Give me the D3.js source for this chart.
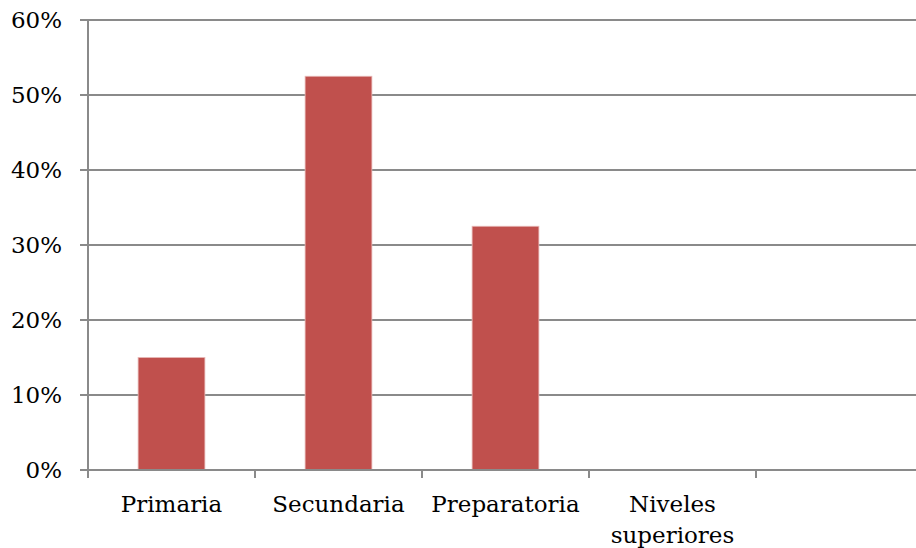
<!DOCTYPE html>
<html>
<head>
<meta charset="utf-8">
<script src="https://cdn.jsdelivr.net/npm/d3@7"></script>
<style>
html,body{margin:0;padding:0;background:#fff;}
svg{display:block;font-family:"DejaVu Serif",serif;}
</style>
</head>
<body>
<svg id="chart" width="916" height="548"></svg>
<script>
const categories = ["Primaria", "Secundaria", "Preparatoria", "Niveles superiores", ""];
const values = [0.15, 0.525, 0.325, 0, null];
const yTicks = [0, 0.1, 0.2, 0.3, 0.4, 0.5, 0.6];
const labelLines = [["Primaria"], ["Secundaria"], ["Preparatoria"], ["Niveles", "superiores"], []];

(function () {
const svg = d3.select("#chart");
const mLeft = 88, mRight = 923, mTop = 20, mBottom = 470;
const gridColor = "#8a8a8a";

const x = d3.scaleBand().domain(d3.range(categories.length)).range([mLeft, mRight])
  .paddingInner(0.6).paddingOuter(0.3);
const y = d3.scaleLinear().domain([0, 0.6]).range([mBottom, mTop]);

// gridlines
svg.append("g").selectAll("line").data(yTicks).join("line")
  .attr("x1", mLeft - 8).attr("x2", mRight)
  .attr("y1", d => y(d)).attr("y2", d => y(d))
  .attr("stroke", gridColor).attr("stroke-width", 2);

// y labels
svg.append("g").selectAll("text").data(yTicks).join("text")
  .attr("x", 62).attr("y", d => y(d) + 2)
  .attr("text-anchor", "end").attr("dominant-baseline", "middle")
  .attr("font-size", 23).attr("fill", "#000")
  .text(d => d3.format(".0%")(d));

// bars
const barData = values.map((v, i) => ({i, v})).filter(d => d.v !== null && d.v > 0);
svg.append("g").selectAll("rect").data(barData).join("rect")
  .attr("x", d => x(d.i)).attr("width", x.bandwidth())
  .attr("y", d => y(d.v)).attr("height", d => y(0) - y(d.v))
  .attr("fill", "#C0504D").attr("stroke", "#e8b9b7").attr("stroke-width", 0.8);

// y axis line
svg.append("line").attr("x1", mLeft).attr("x2", mLeft).attr("y1", mTop).attr("y2", mBottom + 8)
  .attr("stroke", gridColor).attr("stroke-width", 2);

// x tick marks at slot boundaries
const step = x.step();
const bounds = d3.range(categories.length + 1).map(i => mLeft + i * step);
svg.append("g").selectAll("line").data(bounds).join("line")
  .attr("x1", d => d).attr("x2", d => d).attr("y1", mBottom).attr("y2", mBottom + 8)
  .attr("stroke", gridColor).attr("stroke-width", 2);

// baseline
svg.append("line").attr("x1", mLeft - 8).attr("x2", mRight).attr("y1", mBottom).attr("y2", mBottom)
  .attr("stroke", gridColor).attr("stroke-width", 2);

// x labels
const lbl = svg.append("g").selectAll("text").data(labelLines).join("text")
  .attr("text-anchor", "middle").attr("font-size", 23).attr("fill", "#000")
  .attr("x", (d, i) => x(i) + x.bandwidth() / 2);
lbl.selectAll("tspan").data(d => d).join("tspan")
  .attr("x", function () { return d3.select(this.parentNode).attr("x"); })
  .attr("y", (d, j) => 512 + j * 31)
  .text(d => d);
})();
</script>
</body>
</html>
